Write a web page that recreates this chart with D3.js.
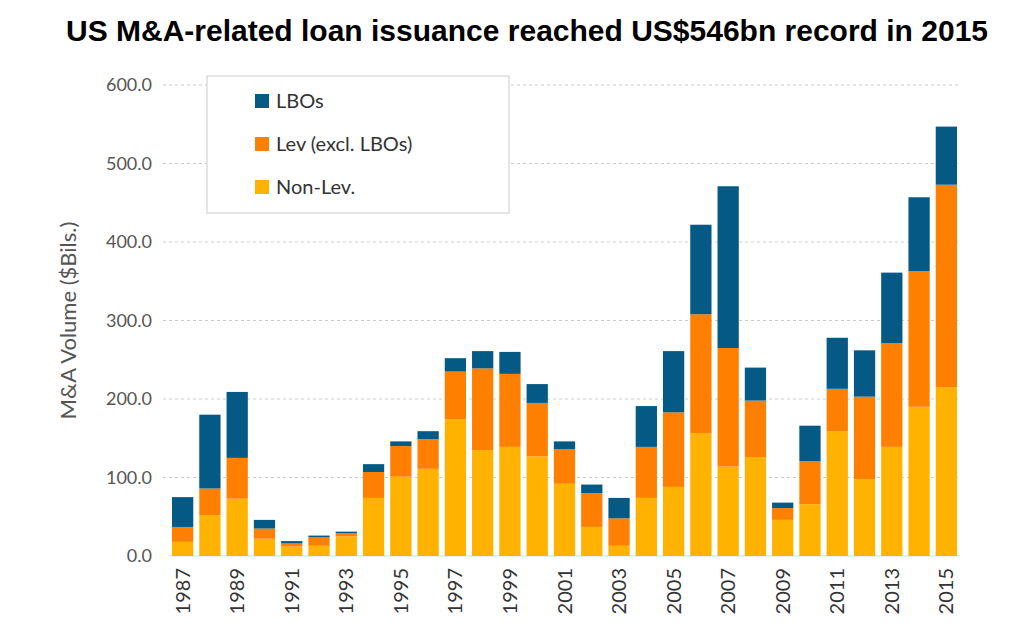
<!DOCTYPE html>
<html>
<head>
<meta charset="utf-8">
<script src="https://d3js.org/d3.v7.min.js"></script>
<style>
  body { margin: 0; background: #fff; }
  text { font-family: Lato, "Open Sans", sans-serif; }
</style>
</head>
<body>
<div id="chart"></div>
<script>
const years = d3.range(1987, 2016);
const nonLev = [18, 52, 73, 22, 12, 13, 25, 74, 101, 111, 174, 135, 139, 127, 92, 37, 13, 74, 88, 156, 114, 126, 46, 66, 159, 98, 139, 190, 215];
const lev    = [19, 34, 52, 13, 4, 11, 4, 33, 39, 38, 61, 104, 93, 68, 44, 43, 35, 65, 95, 152, 151, 72, 15, 55, 54, 105, 132, 173, 258];
const lbos   = [38, 94, 84, 11, 3, 2, 2, 10, 6, 10, 17, 22, 28, 24, 10, 11, 26, 52, 78, 114, 206, 42, 7, 45, 65, 59, 90, 94, 74];
const yTicks = [0, 100, 200, 300, 400, 500, 600];
const seriesNames = ["Non-Lev.", "Lev (excl. LBOs)", "LBOs"];
const colors = ["#ffb300", "#ff8000", "#045a84"];

const W = 1024, H = 636;
const margin = {top: 85, right: 64, bottom: 80, left: 169};
const w = W - margin.left - margin.right, h = H - margin.top - margin.bottom;

const table = years.map((y, i) => ({year: y, "Non-Lev.": nonLev[i], "Lev (excl. LBOs)": lev[i], "LBOs": lbos[i]}));
const stacked = d3.stack().keys(seriesNames)(table);

const svg = d3.select("#chart").append("svg").attr("width", W).attr("height", H);
svg.append("text").attr("x", 527).attr("y", 41).attr("text-anchor", "middle")
  .style("font-family", "Liberation Sans, Arial, sans-serif").style("font-weight", "bold")
  .attr("font-size", "30px").text("US M&A-related loan issuance reached US$546bn record in 2015");

const g = svg.append("g").attr("transform", `translate(${margin.left},${margin.top})`);
const x = d3.scaleBand().domain(years).range([0, w]).paddingInner(0.22).paddingOuter(0.11);
const y = d3.scaleLinear().domain([0, 600]).range([h, 0]);

g.selectAll(".grid").data(yTicks.slice(1)).enter().append("line")
  .attr("x1", -6).attr("x2", w).attr("y1", d => y(d)).attr("y2", d => y(d))
  .attr("stroke", "#ccc").attr("stroke-dasharray", "3,3");
g.append("line").attr("x1", 0).attr("x2", w).attr("y1", h).attr("y2", h).attr("stroke", "#ddd");

g.selectAll(".ytick").data(yTicks).enter().append("text")
  .attr("x", -17).attr("y", d => y(d)).attr("dy", "0.35em").attr("text-anchor", "end")
  .attr("font-size", "18px").attr("fill", "#555").text(d => d.toFixed(1));

g.selectAll(".layer").data(stacked).enter().append("g").attr("fill", (d, i) => colors[i])
  .selectAll("rect").data(d => d).enter().append("rect")
  .attr("x", d => x(d.data.year)).attr("width", x.bandwidth())
  .attr("y", d => y(d[1])).attr("height", d => y(d[0]) - y(d[1]));

years.filter(yr => yr % 2 === 1).forEach(yr => {
  const cx = x(yr) + x.bandwidth() / 2;
  g.append("text").attr("transform", `translate(${cx + 7},${h + 12}) rotate(-90)`)
    .attr("text-anchor", "end").attr("font-size", "20px").attr("fill", "#333").text(yr);
});

svg.append("text").attr("transform", `translate(76,${margin.top + h / 2}) rotate(-90)`)
  .attr("text-anchor", "middle").attr("font-size", "22px").attr("fill", "#555").text("M&A Volume ($Bils.)");

const lg = svg.append("g").attr("transform", "translate(207,76)");
lg.append("rect").attr("width", 302).attr("height", 137).attr("fill", "#fff").attr("stroke", "#ccc");
["LBOs", "Lev (excl. LBOs)", "Non-Lev."].forEach((n, i) => {
  const yy = 25 + i * 43;
  lg.append("rect").attr("x", 48).attr("y", yy - 7).attr("width", 14).attr("height", 14)
    .attr("fill", colors[seriesNames.indexOf(n)]);
  lg.append("text").attr("x", 69).attr("y", yy).attr("dy", "0.35em").attr("font-size", "20px")
    .attr("fill", "#333").text(n);
});
</script>
</body>
</html>
